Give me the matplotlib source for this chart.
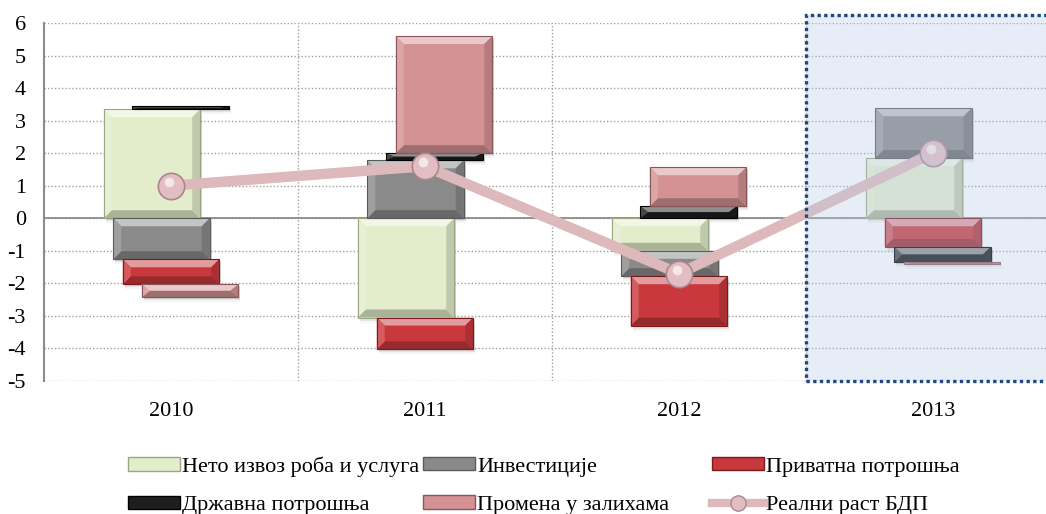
import numpy as np
import matplotlib
matplotlib.use('Agg')
import matplotlib.pyplot as plt
from matplotlib.patches import Rectangle, Polygon, Patch
from matplotlib.lines import Line2D
from matplotlib.colors import to_rgb

# Data =====================================================
years = ['2010', '2011', '2012', '2013']
neto_izvoz = [3.35, -3.05, -1.00, 1.85]
investicije = [-1.26, 1.78, -0.78, 1.53]
privatna = [-0.77, -0.98, -1.52, -0.88]
drzavna = [0.10, 0.22, 0.37, -0.47]
zalihe = [-0.40, 3.60, 1.20, -0.05]
bdp = [1.0, 1.6, -1.7, 2.0]
y_ticks = [-5, -4, -3, -2, -1, 0, 1, 2, 3, 4, 5, 6]

labels = ['Нето извоз роба и услуга', 'Инвестиције', 'Приватна потрошња',
          'Државна потрошња', 'Промена у залихама', 'Реални раст БДП']

# Style ====================================================
plt.rcParams['font.family'] = ['Liberation Serif', 'DejaVu Serif']
plt.rcParams['font.size'] = 16
plt.rcParams['axes.unicode_minus'] = False

series = [neto_izvoz, investicije, privatna, drzavna, zalihe]
colors = ['#E3EDCB', '#8A8A8A', '#C8383C', '#1E1E1E', '#D49294']
edges = ['#9AA882', '#5A5A5A', '#7A1A1E', '#000000', '#8A5558']
offsets = [-0.075, -0.0375, 0.0, 0.0375, 0.075]
width = 0.38


def mix(c, other, t):
    c = np.array(to_rgb(c))
    o = np.array(to_rgb(other))
    return tuple(c * (1 - t) + o * t)


fig = plt.figure(figsize=(10.46, 5.14), dpi=100)
ax = fig.add_axes([44 / 1046, 1 - 381 / 514, 1016 / 1046, 358 / 514])
ax.set_xlim(-0.5, 3.5)
ax.set_ylim(-5, 6)

# pixel -> data scale for bevels and shadows
p0, p1 = ax.transData.transform([(0, 0), (1, 1)])
ux = 1.0 / (p1[0] - p0[0])
uy = 1.0 / (p1[1] - p0[1])


def bevel_bar(x, bottom, height, color, edge):
    x0, x1 = x - width / 2, x + width / 2
    y0, y1 = min(bottom, bottom + height), max(bottom, bottom + height)
    # soft shadow
    for k, a in [(5, 0.06), (3, 0.10), (1.5, 0.14)]:
        ax.add_patch(Rectangle((x0 + 2 * ux, y0 - k * uy), x1 - x0, y1 - y0,
                               facecolor='#555555', edgecolor='none', alpha=a, zorder=2))
    ax.add_patch(Rectangle((x0, y0), x1 - x0, y1 - y0, facecolor=color,
                           edgecolor='none', zorder=3))
    bx = min(8 * ux, (x1 - x0) / 2)
    by = min(8 * uy, (y1 - y0) / 2)
    top = [(x0, y1), (x1, y1), (x1 - bx, y1 - by), (x0 + bx, y1 - by)]
    bot = [(x0, y0), (x1, y0), (x1 - bx, y0 + by), (x0 + bx, y0 + by)]
    lft = [(x0, y0), (x0, y1), (x0 + bx, y1 - by), (x0 + bx, y0 + by)]
    rgt = [(x1, y0), (x1, y1), (x1 - bx, y1 - by), (x1 - bx, y0 + by)]
    for poly, c in [(top, mix(color, 'white', 0.5)), (bot, mix(color, 'black', 0.25)),
                    (lft, mix(color, 'white', 0.18)), (rgt, mix(color, 'black', 0.15))]:
        ax.add_patch(Polygon(poly, closed=True, facecolor=c, edgecolor='none', zorder=3))
    ax.add_patch(Rectangle((x0, y0), x1 - x0, y1 - y0, facecolor='none',
                           edgecolor=edge, lw=0.8, zorder=3))


xpos = np.arange(len(years))
for i in range(len(years)):
    pos, neg = 0.0, 0.0
    for s, vals in enumerate(series):
        v = vals[i]
        if v >= 0:
            bevel_bar(xpos[i] + offsets[s], pos, v, colors[s], edges[s])
            pos += v
        else:
            bevel_bar(xpos[i] + offsets[s], neg, v, colors[s], edges[s])
            neg += v

# GDP line
ax.plot(xpos, bdp, color='#DDB9BB', lw=7.5, zorder=4, solid_capstyle='butt')
ax.plot(xpos, bdp, 'o', ms=19, mfc='#E2BDC2', mec='#A8878E', mew=1.2, zorder=5)
ax.plot(xpos - 0.008, np.array(bdp) + 0.12, 'o', ms=7, mfc='#F7ECEE', mec='none',
        alpha=0.9, zorder=5)

# grid and axes
ax.set_yticks(y_ticks)
ax.set_yticklabels([str(v) for v in y_ticks])
ax.set_xticks(xpos)
ax.set_xticklabels(years)
ax.set_xticks([0.5, 1.5, 2.5], minor=True)
ax.grid(axis='y', which='major', color='#A0A0A0', ls=(0, (1, 1.5)), lw=1, zorder=1)
ax.grid(axis='x', which='minor', color='#A0A0A0', ls=(0, (1, 1.5)), lw=1, zorder=1)
ax.axhline(0, color='#8C8C8C', lw=1.3, zorder=2.5)
ax.tick_params(axis='both', which='both', length=0)
ax.tick_params(axis='y', pad=13)
ax.tick_params(axis='x', pad=15)
for sp in ['top', 'right', 'bottom']:
    ax.spines[sp].set_visible(False)
ax.spines['left'].set_color('#8C8C8C')
ax.spines['left'].set_linewidth(1.5)

# 2013 forecast shading
ax.add_patch(Rectangle((2.5, -5), 1.2, 11.25, facecolor='#B7CAE9', alpha=0.32,
                       edgecolor='none', zorder=6, clip_on=False))
ax.add_patch(Rectangle((2.5, -5), 1.2, 11.25, facecolor='none', edgecolor='#1F497D',
                       lw=2.4, ls=(0, (1, 1)), zorder=7, clip_on=False))

# legend
h = [Patch(facecolor=colors[s], edgecolor=edges[s]) for s in range(5)]
h.append(Line2D([], [], color='#DDB9BB', lw=6, marker='o', ms=11,
                mfc='#E2BDC2', mec='#A8878E'))
cols = [(128, [0, 3]), (423, [1, 4]), (712, [2, 5])]
for xpix, idx in cols:
    fig.legend([h[k] for k in idx], [labels[k] for k in idx], loc='center left',
               bbox_to_anchor=(xpix / 1046, 1 - 486 / 514), frameon=False,
               borderpad=0, borderaxespad=0, handlelength=2.35, handleheight=0.55,
               handletextpad=0.1, labelspacing=0.85, fontsize=16)

fig.savefig('out.png', dpi=100)
